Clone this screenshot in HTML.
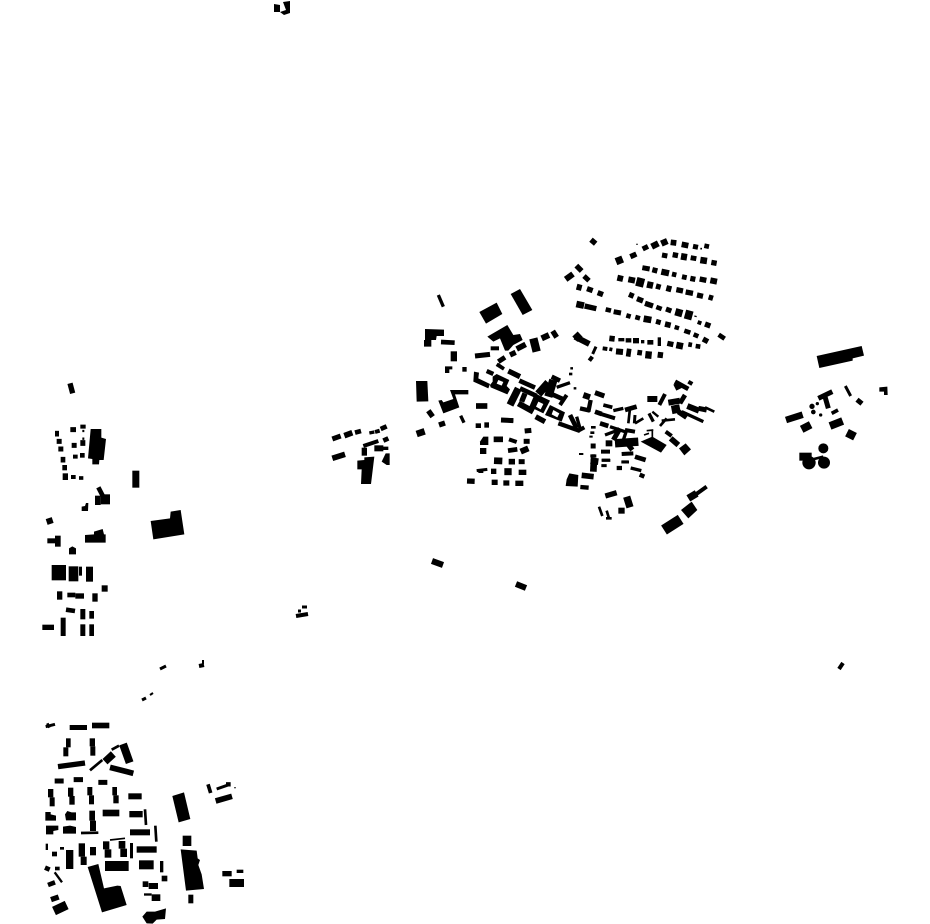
<!DOCTYPE html>
<html><head><meta charset="utf-8"><style>
html,body{margin:0;padding:0;background:#fff;width:930px;height:924px;overflow:hidden}
svg{display:block}
path{stroke:#000;fill:none}
</style></head><body>
<svg width="930" height="924" viewBox="0 0 930 924" xmlns="http://www.w3.org/2000/svg">
<rect width="930" height="924" fill="#fff"/>
<!-- isolated native coordinates -->
<polygon points="274,4 280,5 280,12 274,12"/><polygon points="283,2 290,1 290,13 284,15 280,12 286,10"/>
<path stroke-width="6" d="M432 561L443 565"/>
<path stroke-width="6" d="M516 584L526 588"/>
<path stroke-width="4" d="M296 616L308 614"/>
<path stroke-width="3" d="M302 607L307 607M298 611L301 611"/>
<path stroke-width="3" d="M160 669L166 666"/>
<path stroke-width="4" d="M199 666L204 665"/>
<path stroke-width="2" d="M203 660L203 664"/>
<path stroke-width="3" d="M142 700L146 698"/>
<path stroke-width="2" d="M150 695L153 693"/>
<path stroke-width="4" d="M839 669L843 663"/>

<!-- north section -->
<g transform="translate(410 230) scale(.33333)">
<path stroke-width="16" d="M543 29L557 41"/>
<path stroke-width="22" d="M618 95L638 87"/>
<path stroke-width="16" d="M661 80L679 72"/>
<path stroke-width="4" d="M679 43L683 43"/>
<path stroke-width="15" d="M698 57L714 49"/>
<path stroke-width="19" d="M725 50L745 40M754 41L772 33"/>
<path stroke-width="17" d="M782 37L799 39M815 43L835 47"/>
<path stroke-width="15" d="M849 49L864 52"/>
<path stroke-width="5" d="M871 56L876 56"/>
<path stroke-width="14" d="M883 47L897 50"/>
<path stroke-width="15" d="M756 75L772 78M842 83L859 86"/>
<path stroke-width="16" d="M788 74L804 77M904 97L920 100"/>
<path stroke-width="20" d="M813 79L831 82M871 90L891 93"/>
<path stroke-width="15" d="M697 113L719 117M786 132L799 135"/>
<path stroke-width="16" d="M727 119L742 123M841 145L856 148M869 147L889 151"/>
<path stroke-width="19" d="M754 125L777 130"/>
<path stroke-width="15" d="M816 140L830 143"/>
<path stroke-width="18" d="M901 151L921 155M622 143L639 147M655 148L675 152M769 174L784 178"/>
<path stroke-width="27" d="M679 154L702 160"/>
<path stroke-width="20" d="M711 163L729 167"/>
<path stroke-width="16" d="M738 168L752 172M799 179L819 183M827 186L849 190M861 195L879 199M896 201L909 205"/>
<path stroke-width="16" d="M657 193L671 199M681 206L699 213M705 220L729 228"/>
<path stroke-width="14" d="M739 231L755 237"/>
<path stroke-width="15" d="M768 237L784 243"/>
<path stroke-width="22" d="M796 245L817 251"/>
<path stroke-width="27" d="M825 252L847 258"/>
<path stroke-width="4" d="M853 258L860 260"/>
<path stroke-width="12" d="M863 276L874 280"/>
<path stroke-width="16" d="M885 282L901 288"/>
<path stroke-width="20" d="M499 222L522 227"/>
<path stroke-width="16" d="M524 228L559 236"/>
<path stroke-width="14" d="M587 238L603 242M649 256L662 260M676 261L690 265M823 302L841 308M851 313L865 319M926 314L944 326"/>
<path stroke-width="15" d="M611 245L633 249M738 274L752 278"/>
<path stroke-width="20" d="M701 266L724 270"/>
<path stroke-width="17" d="M765 282L782 286"/>
<path stroke-width="13" d="M794 291L807 295"/>
<path stroke-width="16" d="M879 327L894 335"/>
<path stroke-width="17" d="M598 325L614 327"/>
<path stroke-width="10" d="M625 329L643 329M693 335L703 335"/>
<path stroke-width="13" d="M647 331L664 331"/>
<path stroke-width="16" d="M669 332L687 332M772 340L790 344"/>
<path stroke-width="14" d="M712 337L730 337M835 343L846 345M857 348L871 350"/>
<path stroke-width="26" d="M743 335L753 335"/>
<path stroke-width="20" d="M799 345L819 349"/>
<path stroke-width="12" d="M578 355L592 357"/>
<path stroke-width="11" d="M598 357L607 359"/>
<path stroke-width="18" d="M618 364L639 366M743 374L759 376"/>
<path stroke-width="24" d="M649 367L663 369"/>
<path stroke-width="16" d="M682 367L696 369"/>
<path stroke-width="22" d="M706 374L725 376"/>
<path stroke-width="18" d="M467 148L489 132"/>
<path stroke-width="16" d="M499 107L515 123"/>
<path stroke-width="15" d="M522 138L537 152"/>
<path stroke-width="18" d="M500 170L515 174"/>
<path stroke-width="16" d="M531 176L548 182M563 188L579 194"/>
<path stroke-width="18" d="M495 320L538 342"/>
<path stroke-width="22" d="M495 312L510 328"/>
<path stroke-width="9" d="M558 350L548 372"/>
<path stroke-width="12" d="M547 380L538 392"/>
<polygon points="208,246 260,218 277,252 228,281"/>
<polygon points="302,192 330,177 367,240 338,255"/>
<path stroke-width="10" d="M85 195L100 230"/>
<polygon points="45,297 102,299 102,318 80,318 78,330 64,330 64,350 42,350 42,330 45,330"/>
<path stroke-width="14" d="M93 336L134 338"/>
<rect x="122" y="364" width="19" height="30"/>
<polygon points="105,409 127,409 127,418 118,418 118,429 105,429"/>
<rect x="157" y="411" width="13" height="14"/>
</g>

<!-- crop C -->
<g transform="translate(475 320) scale(.33333)">
<polygon points="37,50 97,15 115,45 135,42 143,60 115,75 100,92 90,92 75,55 55,65"/>
<path stroke-width="12" d="M47 85L72 85"/>
<path stroke-width="15" d="M0 108L45 103"/>
<path stroke-width="17" d="M125 87L152 73"/>
<path stroke-width="16" d="M105 105L122 97"/>
<path stroke-width="15" d="M70 125L90 112"/>
<path stroke-width="25" d="M175 55L185 95"/>
<path stroke-width="18" d="M200 55L222 45"/>
<path stroke-width="16" d="M233 33L245 52"/>
<path stroke-width="10" d="M68 133L85 145"/>
</g>

<!-- crop A dense band -->
<g transform="translate(470 360) scale(.33333)">
<polygon points="12,35 27,38 25,55 60,72 55,85 10,65"/>
<path stroke-width="13" d="M50 33L70 42"/>
<polygon points="68,50 80,42 118,60 110,78 120,88 112,103 62,82 60,75 68,65"/>
<polygon fill="#fff" points="85,60 100,66 95,77 80,71"/>
<path stroke-width="11" d="M80 13L102 27"/>
<path stroke-width="16" d="M115 33L150 50"/>
<path stroke-width="14" d="M148 62L195 83M150 85L200 108"/>
<path stroke-width="22" d="M145 85L120 135"/>
<path stroke-width="16" d="M165 100L155 125"/>
<path stroke-width="18" d="M145 130L190 155"/>
<polygon points="195,100 240,122 220,160 178,140"/>
<polygon fill="#fff" points="205,125 220,132 212,148 198,140"/>
<path stroke-width="24" d="M235 68L205 102"/>
<path stroke-width="14" d="M245 50L270 62M240 100L285 120"/>
<path stroke-width="25" d="M250 60L235 110"/>
<path stroke-width="10" d="M260 82L300 68"/>
<path stroke-width="12" d="M290 105L270 135"/>
<path stroke-width="8" d="M297 42L307 42"/>
<path stroke-width="7" d="M301 25L309 25M311 85L319 85"/>
<path stroke-width="16" d="M197 170L225 185"/>
<polygon points="240,135 285,157 275,185 225,165"/>
<polygon fill="#fff" points="250,150 268,160 262,172 245,163"/>
<path stroke-width="13" d="M265 190L330 213"/>
<path stroke-width="14" d="M300 165L320 205"/>
<path stroke-width="10" d="M320 170L330 205"/>
<path stroke-width="17" d="M18 138L52 138"/>
<path stroke-width="13" d="M94 181L130 181"/>
</g>

<!-- crop B dense band -->
<g transform="translate(575 380) scale(.33333)">
<path stroke-width="18" d="M25 45L45 52"/>
<path stroke-width="15" d="M60 38L88 48"/>
<path stroke-width="13" d="M47 60L40 95M15 85L45 92"/>
<path stroke-width="14" d="M60 95L80 102"/>
<path stroke-width="11" d="M85 75L112 82"/>
<path stroke-width="12" d="M78 102L120 115M10 152L28 142"/>
<path stroke-width="10" d="M115 92L145 85"/>
<path stroke-width="14" d="M150 90L185 80"/>
<path stroke-width="8" d="M165 85L160 130M205 115L180 130"/>
<path stroke-width="9" d="M180 105L178 130"/>
<path stroke-width="18" d="M217 57L247 57M280 68L315 62"/>
<path stroke-width="12" d="M270 42L253 75"/>
<path stroke-width="7" d="M232 95L250 110"/>
<path stroke-width="10" d="M222 100L235 125"/>
<path stroke-width="8" d="M275 115L255 138M260 122L300 118"/>
<path stroke-width="14" d="M330 45L315 70M300 5L340 27"/>
<path stroke-width="25" d="M290 90L315 85"/>
<path stroke-width="16" d="M310 95L335 112"/>
<path stroke-width="10" d="M320 95L385 125"/>
<path stroke-width="18" d="M337 78L372 92M303 10L312 28"/>
<path stroke-width="15" d="M370 85L395 90"/>
<path stroke-width="8" d="M390 82L418 95"/>
<path stroke-width="12" d="M340 5L352 12"/>
<path stroke-width="14" d="M75 130L100 138"/>
<path stroke-width="10" d="M105 140L150 155M90 165L130 150M155 150L140 195"/>
<path stroke-width="15" d="M135 145L115 180M157 190L172 210"/>
<path stroke-width="12" d="M150 150L180 155M140 222L175 220M78 215L105 215"/>
<path stroke-width="25" d="M120 190L190 185"/>
<path stroke-width="18" d="M92 190L112 190"/>
<path stroke-width="14" d="M180 230L212 240"/>
<path stroke-width="8" d="M140 245L160 245M48 142L62 142M46 158L58 158M80 240L105 240"/>
<path stroke-width="6" d="M12 222L25 222M43 170L53 170"/>
<path stroke-width="15" d="M47 198L62 198"/>
<path stroke-width="10" d="M50 228L60 228"/>
<path stroke-width="20" d="M47 242L70 245"/>
<polygon points="197,185 232,170 275,195 258,218"/>
<path stroke-width="5" d="M215 152L235 150M232 150L232 172M207 165L222 160"/>
<path stroke-width="12" d="M272 155L290 168"/>
<path stroke-width="17" d="M287 175L310 195"/>
<polygon points="312,205 332,190 348,208 328,226"/>
</g>

<!-- central south blocks -->
<g transform="translate(410 370) scale(.33333)">
<polygon points="18,33 52,33 55,94 20,95"/>
<polygon points="85,92 95,90 100,97 130,87 120,60 175,60 175,73 135,73 148,112 100,130"/>
<path stroke-width="16" d="M55 122L68 140"/>
<path stroke-width="16" d="M87 165L105 159"/>
<path stroke-width="10" d="M152 137L162 158"/>
<path stroke-width="20" d="M20 192L44 184"/>
<path stroke-width="14" d="M197 167L213 167"/>
<path stroke-width="16" d="M223 165L237 165"/>
<path stroke-width="15" d="M273 150L310 152M344 183L364 181"/>
<polygon points="220,200 235,200 235,225 210,225 210,215"/>
<path stroke-width="17" d="M251 208L279 208"/>
<path stroke-width="12" d="M297 208L320 216"/>
<path stroke-width="15" d="M341 214L359 214"/>
<path stroke-width="18" d="M210 243L229 243M332 245L355 235"/>
<path stroke-width="14" d="M294 242L322 238"/>
<path stroke-width="20" d="M252 272L277 273"/>
<path stroke-width="17" d="M296 275L315 275"/>
<path stroke-width="15" d="M326 275L344 275"/>
<path stroke-width="9" d="M200 302L232 298"/>
<path stroke-width="8" d="M205 305L220 305"/>
<path stroke-width="16" d="M243 304L259 304M171 333L194 334M245 337L263 337M280 339L298 339M316 340L340 340"/>
<path stroke-width="21" d="M283 305L305 305"/>
<path stroke-width="16" d="M326 307L349 307"/>
<path stroke-width="20" d="M552 265L550 305"/>
<path stroke-width="10" d="M541 258L559 258M662 294L694 302"/>
<path stroke-width="9" d="M575 271L601 271M574 287L590 287M634 276L657 276"/>
<path stroke-width="13" d="M620 294L636 294M689 314L703 320M511 351L536 353"/>
<path stroke-width="17" d="M515 316L551 320"/>
<polygon points="478,310 505,315 503,350 467,348 470,328"/>
<path stroke-width="16" d="M586 378L620 368"/>
<path stroke-width="22" d="M650 380L660 412"/>
<path stroke-width="18" d="M625 422L644 422"/>
<path stroke-width="8" d="M567 410L577 438M590 422L597 445M588 445L605 445"/>
<path stroke-width="32" d="M762 480L812 448"/>
<polygon points="813,420 845,395 862,420 835,445"/>
<path stroke-width="22" d="M835 385L860 370"/>
<path stroke-width="12" d="M855 375L890 350"/>
</g>

<!-- west middle -->
<g transform="translate(30 375) scale(.33333)">
<path stroke-width="16" d="M120 25L128 55"/>
<path stroke-width="17" d="M75 176L87 176"/>
<path stroke-width="15" d="M80 199L95 199M85 222L100 222M121 164L138 164M125 211L140 211"/>
<path stroke-width="17" d="M92 254L106 254M151 204L166 204"/>
<path stroke-width="16" d="M97 278L111 278"/>
<path stroke-width="20" d="M98 305L114 305"/>
<path stroke-width="12" d="M123 306L137 306"/>
<path stroke-width="11" d="M147 309L160 309"/>
<path stroke-width="12" d="M151 155L167 155M129 245L143 245"/>
<path stroke-width="7" d="M157 191L163 191M157 168L163 168"/>
<path stroke-width="14" d="M150 241L164 241"/>
<polygon points="182,162 214,162 214,188 228,192 221,255 208,255 207,268 187,268 187,252 174,250"/>
<rect x="307" y="287" width="21" height="51"/>
<path stroke-width="14" d="M205 337L218 362"/>
<rect x="195" y="362" width="17" height="28"/>
<rect x="212" y="358" width="28" height="30"/>
<polygon points="155,395 165,393 168,384 175,384 174,408 155,408"/>
<polygon points="362,438 420,430 422,410 452,405 463,478 370,493"/>
<path stroke-width="18" d="M50 441L68 435"/>
<rect x="52" y="490" width="23" height="15"/>
<rect x="75" y="482" width="17" height="33"/>
<polygon points="117,520 127,514 138,520 138,538 117,538"/>
<polygon points="165,480 192,478 192,470 218,462 222,478 227,478 227,503 165,503"/>
<rect x="65" y="570" width="43" height="46"/>
<rect x="116" y="574" width="29" height="45"/>
<rect x="147" y="575" width="9" height="27"/>
<rect x="168" y="575" width="21" height="45"/>
<rect x="215" y="631" width="18" height="19"/>
<rect x="81" y="649" width="16" height="25"/>
<rect x="112" y="653" width="24" height="14"/>
<rect x="136" y="655" width="26" height="16"/>
<rect x="187" y="655" width="16" height="25"/>
<path stroke-width="14" d="M108 704L135 708"/>
<rect x="151" y="702" width="15" height="31"/>
<rect x="178" y="708" width="14" height="23"/>
<rect x="37" y="749" width="35" height="16"/>
<rect x="92" y="728" width="15" height="55"/>
<rect x="151" y="748" width="15" height="35"/>
<rect x="178" y="748" width="14" height="35"/>
</g>

<!-- south west -->
<g transform="translate(30 715) scale(.33333)">
<path stroke-width="9" d="M47 35L75 28"/>
<path stroke-width="8" d="M52 25L58 38"/>
<rect x="119" y="30" width="52" height="15"/>
<rect x="186" y="23" width="52" height="17"/>
<rect x="108" y="70" width="14" height="27"/>
<rect x="100" y="97" width="15" height="27"/>
<rect x="179" y="70" width="16" height="24"/>
<rect x="181" y="94" width="15" height="28"/>
<path stroke-width="16" d="M84 155L165 144"/>
<path stroke-width="8" d="M180 166L217 135"/>
<path stroke-width="22" d="M225 140L250 117"/>
<path stroke-width="8" d="M245 104L267 92"/>
<path stroke-width="24" d="M279 87L299 143"/>
<path stroke-width="17" d="M240 157L310 175"/>
<path stroke-width="15" d="M74 198L101 198M131 194L159 194M205 202L232 202"/>
<rect x="54" y="222" width="16" height="25"/>
<rect x="59" y="247" width="15" height="27"/>
<rect x="114" y="218" width="16" height="27"/>
<rect x="118" y="243" width="16" height="26"/>
<rect x="172" y="216" width="15" height="25"/>
<rect x="177" y="241" width="15" height="27"/>
<rect x="247" y="216" width="14" height="25"/>
<rect x="250" y="241" width="16" height="24"/>
<rect x="295" y="235" width="40" height="18"/>
<polygon points="46,291 62,291 62,298 78,302 78,317 46,317"/>
<polygon points="112,288 125,292 138,292 138,316 108,316 105,298"/>
<rect x="178" y="287" width="17" height="30"/>
<rect x="180" y="317" width="18" height="31"/>
<path stroke-width="8" d="M153 354L205 353M345 283L348 330M376 332L379 380"/>
<rect x="218" y="284" width="50" height="20"/>
<rect x="298" y="288" width="40" height="19"/>
<polygon points="48,332 85,332 85,345 70,348 70,358 48,358"/>
<polygon points="99,335 120,332 138,336 138,356 99,356"/>
<rect x="300" y="343" width="60" height="18"/>
<rect x="47" y="386" width="7" height="19"/>
<rect x="66" y="410" width="15" height="14"/>
<rect x="90" y="396" width="12" height="8"/>
<rect x="108" y="405" width="22" height="57"/>
<rect x="146" y="385" width="19" height="40"/>
<rect x="152" y="425" width="18" height="25"/>
<rect x="180" y="396" width="18" height="25"/>
<rect x="219" y="379" width="19" height="24"/>
<rect x="224" y="403" width="20" height="25"/>
<path stroke-width="5" d="M240 375L285 370"/>
<rect x="266" y="378" width="20" height="23"/>
<rect x="271" y="401" width="20" height="25"/>
<rect x="300" y="384" width="9" height="46"/>
<rect x="320" y="394" width="60" height="19"/>
<rect x="225" y="438" width="71" height="30"/>
<polygon points="173,456 205,447 222,520 262,512 272,513 290,570 216,592"/>
<rect x="327" y="436" width="44" height="27"/>
<rect x="390" y="438" width="10" height="34"/>
<rect x="395" y="482" width="17" height="17"/>
<rect x="338" y="499" width="17" height="17"/>
<rect x="356" y="504" width="28" height="18"/>
<rect x="342" y="535" width="23" height="7"/>
<rect x="365" y="538" width="26" height="20"/>
<polygon points="337,605 350,590 375,590 408,580 405,612 380,614 368,626 350,625"/>
<polygon points="427,243 462,232 481,312 446,322"/>
<rect x="458" y="362" width="26" height="31"/>
<polygon points="452,403 500,407 503,430 510,435 505,450 515,478 522,522 468,527"/>
<rect x="475" y="539" width="15" height="26"/>
<path stroke-width="11" d="M534 208L542 234"/>
<path stroke-width="9" d="M560 222L600 208"/>
<path stroke-width="13" d="M588 208L602 208"/>
<path stroke-width="4" d="M613 218L617 218"/>
<path stroke-width="17" d="M557 258L606 244"/>
<rect x="577" y="468" width="28" height="16"/>
<rect x="620" y="464" width="20" height="10"/>
<rect x="598" y="492" width="44" height="24"/>
<path stroke-width="14" d="M45 458L59 464"/>
<rect x="75" y="455" width="14" height="11"/>
<path stroke-width="7" d="M74 472L96 502"/>
<path stroke-width="14" d="M54 510L75 502"/>
<path stroke-width="16" d="M63 554L86 546"/>
<path stroke-width="27" d="M72 588L110 570"/>
</g>

<!-- east group -->
<g transform="translate(780 340) scale(.33333)">
<polygon points="110,48 245,18 252,47 218,55 218,62 118,84"/>
<path stroke-width="9" d="M196 138L212 168"/>
<polygon points="298,142 322,140 323,165 312,165 312,155 298,155"/>
<path stroke-width="15" d="M231 179L246 191M115 175L157 155M135 170L145 205"/>
<circle cx="96" cy="199" r="8"/><circle cx="112" cy="191" r="5"/><circle cx="100" cy="216" r="7"/><circle cx="122" cy="225" r="5"/>
<path stroke-width="11" d="M155 220L174 210"/>
<path stroke-width="23" d="M150 258L188 243M65 268L92 254"/>
<path stroke-width="25" d="M201 278L225 290"/>
<path stroke-width="20" d="M18 240L68 224"/>
<rect x="58" y="338" width="37" height="24"/>
<circle cx="87" cy="368" r="20"/><circle cx="130" cy="325" r="15"/><circle cx="132" cy="368" r="18"/>
<path stroke-width="8" d="M90 360L130 350"/>
</g>

<!-- mid group -->
<g transform="translate(325 420) scale(.33333)">
<path stroke-width="15" d="M22 57L47 48"/>
<path stroke-width="17" d="M58 47L82 38M22 115L60 103"/>
<path stroke-width="14" d="M90 38L108 33M175 62L190 55M167 27L185 19"/>
<path stroke-width="10" d="M133 39L148 36M170 85L190 85"/>
<path stroke-width="12" d="M150 36L164 32M115 78L160 63"/>
<polygon points="97,122 118,120 118,112 148,110 138,192 108,192 110,148 97,148"/>
<path stroke-width="24" d="M110 95L126 95"/>
<path stroke-width="18" d="M148 85L175 85"/>
<polygon points="170,125 182,100 194,100 194,135 185,135"/>
</g>
</svg>
</body></html>
